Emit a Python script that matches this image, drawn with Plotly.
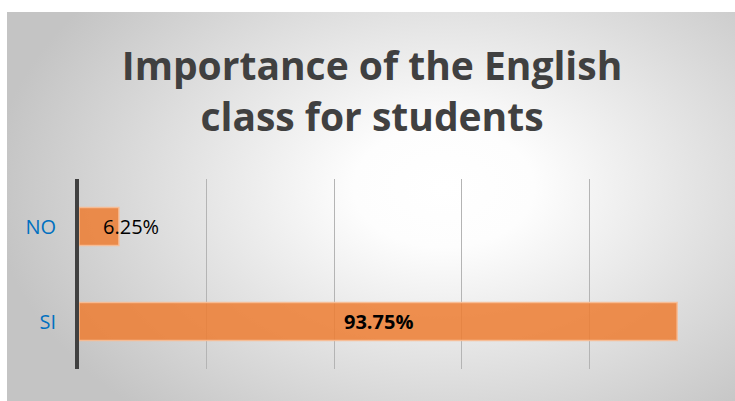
import plotly.graph_objects as go
import urllib.parse

# Survey answers
categories = ["NO", "SI"]
percentages = [6.25, 93.75]
label_texts = ["6.25%", "93.75%"]
title_text = "Importance of the English<br>class for students"

W, H = 735, 401
L, R, T, B = 79, 18, 179, 32
plot_w = W - L - R
plot_h = H - T - B

# soft radial shading for the chart panel
svg = (
    "<svg xmlns='http://www.w3.org/2000/svg' width='728' height='389' "
    "preserveAspectRatio='none' viewBox='0 0 728 389'>"
    "<defs><radialGradient id='g' cx='0.6' cy='0.45' r='0.62' "
    "gradientTransform='translate(0.6 0.45) scale(1 1.25) translate(-0.6 -0.45)'>"
    "<stop offset='0' stop-color='#ffffff'/>"
    "<stop offset='0.2' stop-color='#fdfdfd'/>"
    "<stop offset='1' stop-color='#c4c4c4'/>"
    "</radialGradient></defs>"
    "<rect width='728' height='389' fill='url(#g)'/></svg>"
)
svg_src = "data:image/svg+xml;charset=utf-8," + urllib.parse.quote(svg)

panel_x0, panel_y0, panel_x1, panel_y1 = 7, 12, 735, 401
img_x = (panel_x0 - L) / plot_w
img_y = (H - B - panel_y0) / plot_h
img_sx = (panel_x1 - panel_x0) / plot_w
img_sy = (panel_y1 - panel_y0) / plot_h

fig = go.Figure()
fig.add_trace(go.Bar(
    x=percentages,
    y=categories,
    orientation="h",
    marker=dict(color="rgba(237,125,49,0.85)",
                line=dict(color="rgba(248,190,150,0.9)", width=1.5)),
    width=0.4,
    hoverinfo="skip",
))

# value labels
fig.add_annotation(x=percentages[0], y=categories[0], text=label_texts[0],
                   showarrow=False, xanchor="center", xshift=12,
                   font=dict(family="Open Sans", size=20, color="#000000"))
fig.add_annotation(x=percentages[1] / 2, y=categories[1], text="<b>" + label_texts[1] + "</b>",
                   showarrow=False, xanchor="center",
                   font=dict(family="Open Sans", size=20, color="#000000"))

fig.add_layout_image(
    source=svg_src, xref="paper", yref="paper",
    x=img_x, y=img_y, sizex=img_sx, sizey=img_sy,
    xanchor="left", yanchor="top", sizing="stretch", layer="below",
)

fig.update_layout(
    width=W, height=H,
    margin=dict(l=L, r=R, t=T, b=B),
    paper_bgcolor="#ffffff",
    plot_bgcolor="rgba(0,0,0,0)",
    showlegend=False,
    title=dict(text=title_text, x=372 / W, xanchor="center",
               y=1 - 80 / H, yanchor="top", yref="container",
               font=dict(family="Open Sans", size=39, color="#404040", weight="bold")),
    xaxis=dict(range=[0, 100], dtick=20, showticklabels=False, showgrid=True,
               gridcolor="#b4b4b4", gridwidth=1, zeroline=False, showline=False,
               fixedrange=True),
    yaxis=dict(autorange="reversed", showline=True, linecolor="#404040", linewidth=4,
               ticks="", ticklabelstandoff=15, showgrid=False,
               tickfont=dict(family="Open Sans", size=20, color="#0070C0"),
               fixedrange=True),
)

fig.write_html("out.html")
